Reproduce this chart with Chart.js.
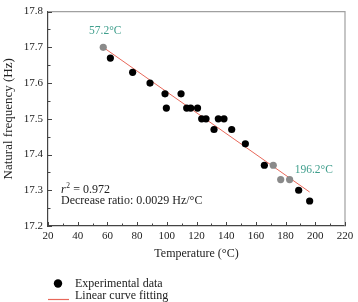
<!DOCTYPE html>
<html><head><meta charset="utf-8">
<script src="https://cdn.jsdelivr.net/npm/chart.js@4/dist/chart.umd.min.js"></script>
<style>html,body{margin:0;padding:0;background:#fff}#wrap{width:358px;height:302px}</style>
</head><body><div id="wrap"><canvas id="c" width="358" height="302"></canvas></div>
<script>
const temperature = [57.2, 62, 77, 88.7, 98.8, 99.7, 109.6, 113.4, 116.1, 120.7, 123.5, 126.4, 131.8, 134.7, 138.5, 143.7, 152.9, 165.7, 171.7, 176.7, 182.7, 188.8, 196.2];
const frequency   = [17.70, 17.67, 17.63, 17.60, 17.57, 17.53, 17.57, 17.53, 17.53, 17.53, 17.50, 17.50, 17.47, 17.50, 17.50, 17.47, 17.43, 17.37, 17.37, 17.33, 17.33, 17.30, 17.27];
const fitTemperature = [57.2, 196.2];
const fitFrequency   = [17.70, 17.295];
const xTicks = [20, 40, 60, 80, 100, 120, 140, 160, 180, 200, 220];
const yTicks = [17.2, 17.3, 17.4, 17.5, 17.6, 17.7, 17.8];
const legendLabels = ['Experimental data', 'Linear curve fitting'];

const grayPoints = new Set([0, 18, 19, 20]);
const FONT = '"Liberation Serif", "DejaVu Serif", serif';
const RED = '#e8685a';
const TEAL = '#3f9e8c';

const decor = {
  id: 'decor',
  afterDraw(chart) {
    const ctx = chart.ctx, ca = chart.chartArea;
    const xs = chart.scales.x, ys = chart.scales.y;
    ctx.save();
    ctx.strokeStyle = '#a0a0a0'; ctx.lineWidth = 1.2;
    ctx.beginPath();
    ctx.moveTo(ca.left, ca.top); ctx.lineTo(ca.right, ca.top); ctx.lineTo(ca.right, ca.bottom);
    ctx.stroke();
    ctx.strokeStyle = '#444'; ctx.lineWidth = 1;
    ctx.beginPath();
    for (let v = xTicks[0]; v <= xTicks[xTicks.length-1] + 0.001; v += 10) {
      const px = Math.round(xs.getPixelForValue(v)) + 0.5;
      const major = Math.abs((v - xTicks[0]) % 20) < 0.001;
      ctx.moveTo(px, ca.bottom); ctx.lineTo(px, ca.bottom - (major ? 4 : 2.5));
    }
    for (let i = 0; i <= (yTicks.length-1)*2; i++) {
      const v = yTicks[0] + i*0.05;
      const py = Math.round(ys.getPixelForValue(v)) + 0.5;
      ctx.moveTo(ca.left, py); ctx.lineTo(ca.left + (i % 2 === 0 ? 4 : 2.5), py);
    }
    ctx.stroke();
    ctx.textBaseline = 'middle';
    ctx.fillStyle = TEAL; ctx.font = '11.5px ' + FONT;
    ctx.textAlign = 'center';
    ctx.fillText('57.2°C', xs.getPixelForValue(temperature[0]) + 2, ys.getPixelForValue(17.745));
    ctx.fillText('196.2°C', xs.getPixelForValue(199), ys.getPixelForValue(17.357));
    ctx.textAlign = 'left';
    ctx.fillStyle = '#222';
    const tx = ca.left + 13, ty = ys.getPixelForValue(17.3);
    ctx.font = 'italic 12px ' + FONT;
    ctx.fillText('r', tx, ty);
    const rw = ctx.measureText('r').width;
    ctx.font = '7.5px ' + FONT;
    ctx.fillText('2', tx + rw + 0.5, ty - 4);
    ctx.font = '12px ' + FONT;
    ctx.fillText(' = 0.972', tx + rw + 4.5, ty);
    ctx.fillText('Decrease ratio: 0.0029 Hz/°C', tx, ty + 10.5);
    const lx = ca.left;
    ctx.fillStyle = '#000';
    ctx.beginPath(); ctx.arc(lx + 10, 283.5, 4.2, 0, Math.PI*2); ctx.fill();
    ctx.fillStyle = '#222';
    ctx.fillText(legendLabels[0], lx + 27, 283.5);
    ctx.strokeStyle = RED; ctx.lineWidth = 1.2;
    ctx.beginPath(); ctx.moveTo(lx, 299.5); ctx.lineTo(lx + 21, 299.5); ctx.stroke();
    ctx.fillText(legendLabels[1], lx + 27, 295.5);
    ctx.restore();
  }
};

new Chart(document.getElementById('c'), {
  type: 'scatter',
  data: {
    datasets: [
      {
        label: legendLabels[1],
        type: 'line',
        data: fitTemperature.map((x, i) => ({x, y: fitFrequency[i]})),
        borderColor: RED, borderWidth: 1, pointRadius: 0, fill: false, order: 2
      },
      {
        label: legendLabels[0],
        data: temperature.map((x, i) => ({x, y: frequency[i]})),
        backgroundColor: ctx => grayPoints.has(ctx.dataIndex) ? '#8a8a8a' : '#000',
        borderWidth: 0, pointRadius: 3.6, order: 1
      }
    ]
  },
  options: {
    responsive: false, animation: false,
    layout: { padding: { left: 0, right: 13, top: 7, bottom: 41 } },
    plugins: { legend: { display: false }, tooltip: { enabled: false } },
    scales: {
      x: {
        type: 'linear', min: 20, max: 220,
        afterBuildTicks: s => { s.ticks = xTicks.map(v => ({value: v})); },
        afterFit: s => { s.height = 35; },
        grid: { display: false, drawTicks: false },
        border: { display: true, color: '#444', width: 1.2 },
        ticks: { padding: 4, color: '#222', font: { family: FONT, size: 11 }, maxRotation: 0 },
        title: { display: true, text: 'Temperature (°C)', color: '#222', padding: 0, font: { family: FONT, size: 12 } }
      },
      y: {
        type: 'linear', min: 17.2, max: 17.8,
        afterBuildTicks: s => { s.ticks = yTicks.map(v => ({value: v})); },
        afterFit: s => { s.width = 48; },
        grid: { display: false, drawTicks: false },
        border: { display: true, color: '#444', width: 1.2 },
        ticks: { padding: 5, color: '#222', font: { family: FONT, size: 11 }, callback: v => v.toFixed(1) },
        title: { display: true, text: 'Natural frequency (Hz)', color: '#222', padding: { top: 0.5 }, font: { family: FONT, size: 13 } }
      }
    }
  },
  plugins: [decor]
});
</script></body></html>
